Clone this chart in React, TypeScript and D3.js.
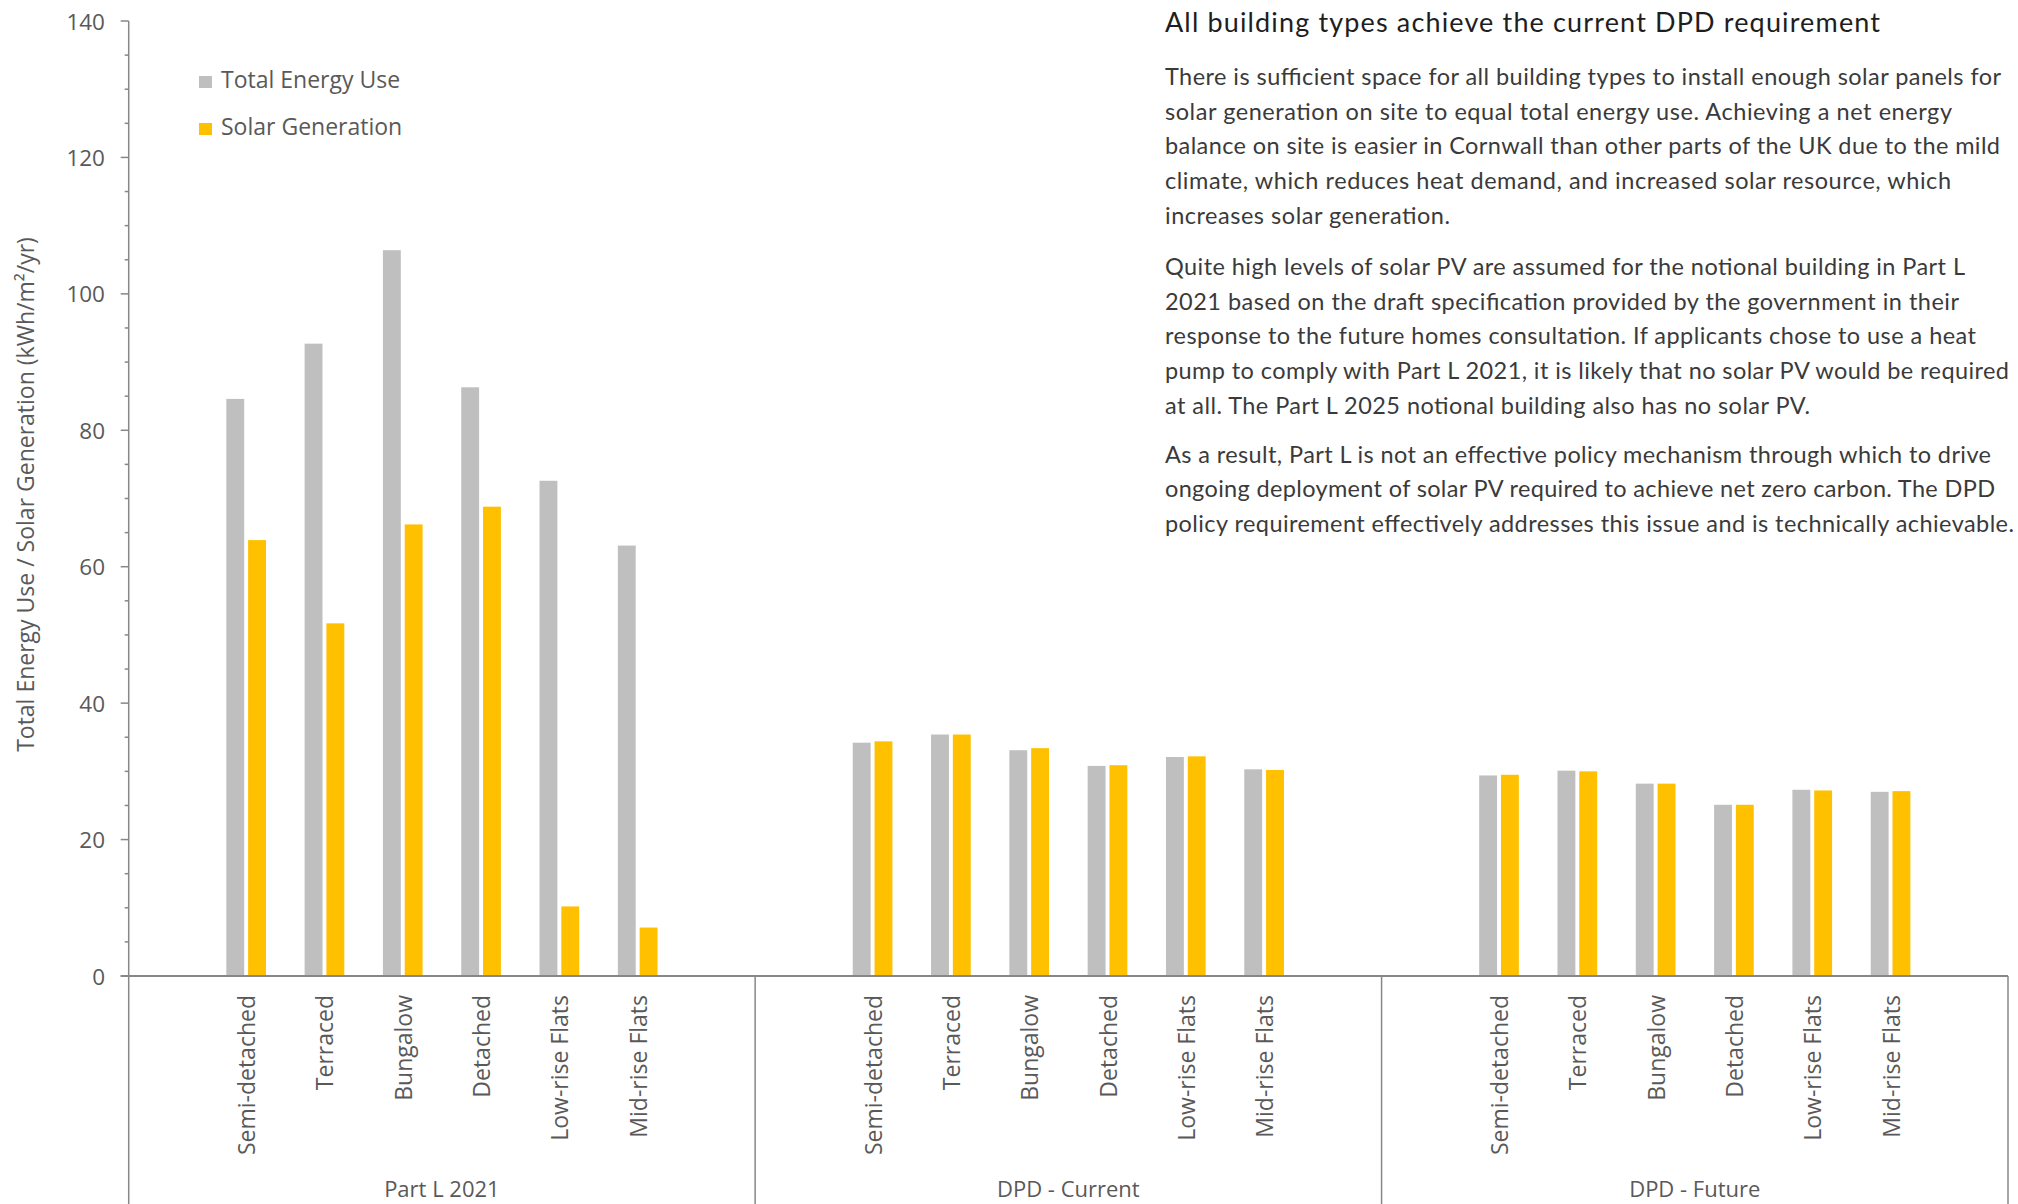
import React from "react";
import * as d3 from "d3";

// ---------- data ----------
const groups = ["Part L 2021", "DPD - Current", "DPD - Future"];
const categories = ["Semi-detached", "Terraced", "Bungalow", "Detached", "Low-rise Flats", "Mid-rise Flats"];
const seriesNames = ["Total Energy Use", "Solar Generation"];

const totalPartL2021 = [84.6, 92.7, 106.4, 86.3, 72.6, 63.1];
const solarPartL2021 = [63.9, 51.7, 66.2, 68.8, 10.2, 7.1];
const totalDpdCurrent = [34.2, 35.4, 33.1, 30.8, 32.1, 30.3];
const solarDpdCurrent = [34.4, 35.4, 33.4, 30.9, 32.2, 30.2];
const totalDpdFuture = [29.4, 30.1, 28.2, 25.1, 27.3, 27.0];
const solarDpdFuture = [29.5, 30.0, 28.2, 25.1, 27.2, 27.1];

const yMajorTicks = [0, 20, 40, 60, 80, 100, 120, 140];

const titleText = "All building types achieve the current DPD requirement";
const paragraph1 = [
  "There is sufficient space for all building types to install enough solar panels for",
  "solar generation on site to equal total energy use. Achieving a net energy",
  "balance on site is easier in Cornwall than other parts of the UK due to the mild",
  "climate, which reduces heat demand, and increased solar resource, which",
  "increases solar generation.",
];
const paragraph2 = [
  "Quite high levels of solar PV are assumed for the notional building in Part L",
  "2021 based on the draft specification provided by the government in their",
  "response to the future homes consultation. If applicants chose to use a heat",
  "pump to comply with Part L 2021, it is likely that no solar PV would be required",
  "at all. The Part L 2025 notional building also has no solar PV.",
];
const paragraph3 = [
  "As a result, Part L is not an effective policy mechanism through which to drive",
  "ongoing deployment of solar PV required to achieve net zero carbon. The DPD",
  "policy requirement effectively addresses this issue and is technically achievable.",
];

// ---------- layout / styles ----------
const W = 2018;
const H = 1204;
const colors = ["#BFBFBF", "#FFC000"];
const axisColor = "#878787";
const labelColor = "#595959";
const axisFont = "'Open Sans', 'Liberation Sans', sans-serif";
const textFont = "Lato, 'Open Sans', sans-serif";
// rendered widths of each commentary line (px)
const titleWidth = 715;
const para1Widths = [836, 787, 835, 786, 285];
const para2Widths = [800, 794, 811, 844, 645];
const para3Widths = [826, 830, 849];

export default function App() {
  const left = 128.7;
  const right = 2008;
  const top = 21;
  const bottom = 976;

  const y = d3.scaleLinear().domain([0, 140]).range([bottom, top]);
  const xGroup = d3.scaleBand<string>().domain(groups).range([left, right]).padding(0);
  const slots = ["__padStart", ...categories, "__padEnd"];
  const xCat = d3.scaleBand<string>().domain(slots).range([0, xGroup.bandwidth()]).padding(0);
  const xSeries = d3
    .scaleBand<string>()
    .domain(seriesNames)
    .range([0, xCat.bandwidth()])
    .paddingInner(0.18)
    .paddingOuter(0.886);

  const groupData = [
    [totalPartL2021, solarPartL2021],
    [totalDpdCurrent, solarDpdCurrent],
    [totalDpdFuture, solarDpdFuture],
  ];

  const minorTicks = d3.range(0, 141, 5).filter((v) => v % 20 !== 0);

  const bodyStartX = 1165;
  const lineGap = 34.7;
  const paragraphs: [string[], number[], number][] = [
    [paragraph1, para1Widths, 85],
    [paragraph2, para2Widths, 274.8],
    [paragraph3, para3Widths, 462.7],
  ];

  return (
    <svg
      width={W}
      height={H}
      style={{ position: "absolute", left: 0, top: 0, display: "block", background: "#fff" }}
    >
      {/* bars */}
      {groups.map((g, gi) => (
        <g key={g} transform={`translate(${xGroup(g)},0)`}>
          {categories.map((c, ci) =>
            seriesNames.map((s, si) => {
              const v = groupData[gi][si][ci];
              return (
                <rect
                  key={c + s}
                  x={(xCat(c) as number) + (xSeries(s) as number)}
                  y={y(v)}
                  width={xSeries.bandwidth()}
                  height={bottom - y(v)}
                  fill={colors[si]}
                />
              );
            })
          )}
        </g>
      ))}

      {/* y axis */}
      <line x1={left} x2={left} y1={top} y2={bottom} stroke={axisColor} strokeWidth={1.5} />
      {yMajorTicks.map((t) => (
        <g key={t}>
          <line x1={left - 8} x2={left} y1={y(t)} y2={y(t)} stroke={axisColor} strokeWidth={1.5} />
          <text
            x={105}
            y={y(t)}
            textAnchor="end"
            dominantBaseline="central"
            fontFamily={axisFont}
            fontSize={22.5}
            fill={labelColor}
          >
            {t}
          </text>
        </g>
      ))}
      {minorTicks.map((t) => (
        <line key={t} x1={left - 4} x2={left} y1={y(t)} y2={y(t)} stroke={axisColor} strokeWidth={1.5} />
      ))}
      <text
        transform={`translate(34,${(top + bottom) / 2 - 4}) rotate(-90)`}
        textAnchor="middle"
        fontFamily={axisFont}
        fontSize={23}
        fill={labelColor}
      >
        Total Energy Use / Solar Generation (kWh/m²/yr)
      </text>

      {/* x axis */}
      <line x1={left - 8} x2={right} y1={bottom} y2={bottom} stroke={axisColor} strokeWidth={2} />
      {[...groups.map((g) => xGroup(g) as number), right].map((x, i) => (
        <line key={i} x1={x} x2={x} y1={bottom} y2={H} stroke={axisColor} strokeWidth={1.5} />
      ))}
      {groups.map((g) => (
        <g key={g} transform={`translate(${xGroup(g)},0)`}>
          {categories.map((c) => (
            <text
              key={c}
              transform={`translate(${(xCat(c) as number) + xCat.bandwidth() / 2},995) rotate(-90)`}
              textAnchor="end"
              dominantBaseline="central"
              fontFamily={axisFont}
              fontSize={23}
              fill={labelColor}
            >
              {c}
            </text>
          ))}
          <text
            x={xGroup.bandwidth() / 2}
            y={1196.5}
            textAnchor="middle"
            fontFamily={axisFont}
            fontSize={22}
            fill={labelColor}
          >
            {g}
          </text>
        </g>
      ))}

      {/* legend */}
      {seriesNames.map((s, i) => (
        <g key={s} transform={`translate(199,${88 + i * 47})`}>
          <rect x={0} y={-12} width={13} height={12} fill={colors[i]} />
          <text x={22} y={0} fontFamily={axisFont} fontSize={23} fill={labelColor}>
            {s}
          </text>
        </g>
      ))}

      {/* commentary */}
      <text
        x={bodyStartX}
        y={32}
        fontFamily={textFont}
        fontSize={27}
        fill="#1e1e1e"
        textLength={titleWidth}
        lengthAdjust="spacing"
      >
        {titleText}
      </text>
      {paragraphs.map(([lines, widths, y0], pi) =>
        lines.map((ln, li) => (
          <text
            key={`${pi}-${li}`}
            x={bodyStartX}
            y={y0 + li * lineGap}
            fontFamily={textFont}
            fontSize={23.5}
            fill="#3a3a3a"
            textLength={widths[li]}
            lengthAdjust="spacing"
          >
            {ln}
          </text>
        ))
      )}
    </svg>
  );
}
